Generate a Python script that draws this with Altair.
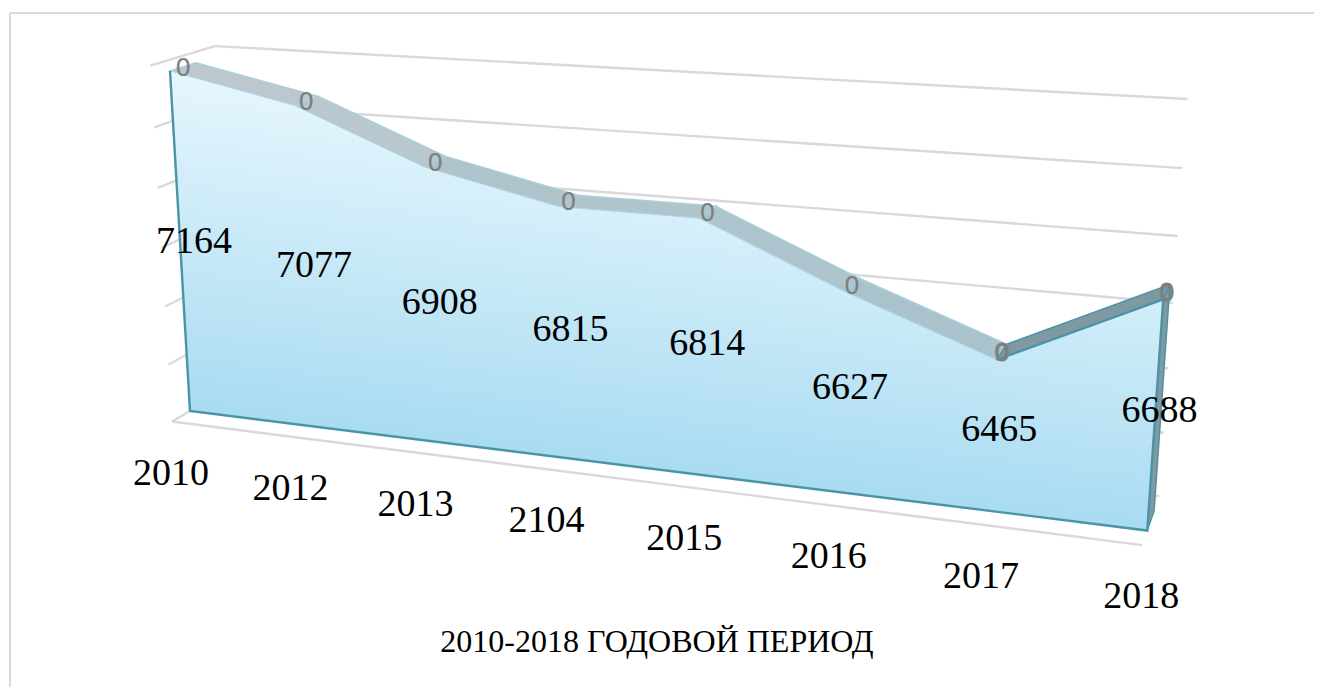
import altair as alt
import pandas as pd

# ---- data ----
years = ["2010", "2012", "2013", "2104", "2015", "2016", "2017", "2018"]
values = [7164, 7077, 6908, 6815, 6814, 6627, 6465, 6688]
zero_labels = ["0", "0", "0", "0", "0", "0", "0", "0"]
y_ticks = [6000, 6200, 6400, 6600, 6800, 7000, 7200]
axis_title = "2010-2018 ГОДОВОЙ ПЕРИОД"

# ---- 3D perspective of the original spreadsheet chart ----
W, H = 1306, 679
V_MIN = 6000
ALPHA, BETA = -0.02222, -3.71e-5
D_FLOOR, D_FRONT, D_MID, D_BACK, D_WALL = -0.0141, 0.0, 0.0099, 0.0198, 0.0354


def project(i, v, d):
    a, b = ALPHA * i, BETA * (v - V_MIN)
    w = 1 + a + b + d
    x = (190 - 5007 * a + 633 * b + 1447 * d) / w
    y = (411 - 238 * a + 7947 * b - 325 * d) / w
    return x - 8, y - 8


def frame(points):
    rows = []
    for k, (i, v, d) in enumerate(points):
        x, y = project(i, v, d)
        rows.append({"x": x, "y": y, "k": k})
    return pd.DataFrame(rows)


X = alt.X("x:Q", scale=alt.Scale(domain=[0, W], nice=False, zero=False), axis=None)
Y = alt.Y("y:Q", scale=alt.Scale(domain=[H, 0], nice=False, zero=False), axis=None)
ORDER = alt.Order("k:Q")
n = len(values)


def path(points, color, width=2.0, **kw):
    return alt.Chart(frame(points)).mark_line(
        color=color, strokeWidth=width, **kw
    ).encode(x=X, y=Y, order=ORDER)


def poly(points, fill, stroke=None, width=1.0):
    kw = {"stroke": stroke or fill, "strokeWidth": width}
    return alt.Chart(frame(points)).mark_line(
        fill=fill, interpolate="linear-closed", **kw
    ).encode(x=X, y=Y, order=ORDER)


layers = []
GRID = "#d9d9d9"

# chart frame
layers.append(alt.Chart(pd.DataFrame({"a": [0]})).mark_rule(color=GRID, strokeWidth=2).encode(
    x=alt.value(2), y=alt.value(5), y2=alt.value(H)))
layers.append(alt.Chart(pd.DataFrame({"a": [0]})).mark_rule(color=GRID, strokeWidth=2).encode(
    x=alt.value(2), x2=alt.value(W), y=alt.value(5)))

# walls and floor
for t in y_ticks:
    layers.append(path([(0, t, D_WALL), (n - 1, t, D_WALL)], GRID, 2.4))
    layers.append(path([(0, t, D_FLOOR), (0, t, D_WALL)], GRID, 2.4))
layers.append(path([(0, V_MIN, D_FLOOR), (n - 1, V_MIN, D_FLOOR)], GRID, 2.4))

# top band of the area
shades = ["#bcc8cd", "#b9c8ce", "#afc3cb", "#b0c4cc", "#aec4cc", "#a9c2cb", "#7f98a1"]
edges = ["#a9cfdc"] * 6 + ["#4a94a8"]
for s in range(n - 1):
    layers.append(poly(
        [(s, values[s], D_FRONT), (s + 1, values[s + 1], D_FRONT),
         (s + 1, values[s + 1], D_BACK), (s, values[s], D_BACK)],
        shades[s], edges[s], 1.5))

# right side of the area
layers.append(poly(
    [(n - 1, V_MIN, D_FRONT), (n - 1, values[-1], D_FRONT),
     (n - 1, values[-1], D_BACK), (n - 1, V_MIN, D_BACK)],
    "#84999f", "#4a94a8", 1.5))

# front face
front = [(i, values[i], D_FRONT) for i in range(n)] + [(n - 1, V_MIN, D_FRONT), (0, V_MIN, D_FRONT)]
gradient = alt.Gradient(
    gradient="linear",
    stops=[alt.GradientStop(color="#e6f6fd", offset=0), alt.GradientStop(color="#a8dbf1", offset=1)],
    x1=0, y1=0, x2=-0.186, y2=0.69,
)
layers.append(poly(front, gradient, "#a9d6e6", 1.0))
layers.append(path([(0, values[0], D_FRONT), (0, V_MIN, D_FRONT), (n - 1, V_MIN, D_FRONT),
                    (n - 1, values[-1], D_FRONT)], "#4a94a8", 2.4))
layers.append(path([(n - 2, values[-2], D_FRONT), (n - 1, values[-1], D_FRONT)], "#4a94a8", 2.4))

# "0" labels
zx, zy = zip(*[project(i, values[i], D_MID) for i in range(n)])
zero_df = pd.DataFrame({"x": zx, "y": zy, "t": zero_labels, "i": range(n)})
layers.append(alt.Chart(zero_df[zero_df.i < 6]).mark_text(
    font="DejaVu Sans", fontSize=25, color="#7f7f7f", baseline="middle", align="center", dy=1
).encode(x=X, y=Y, text="t:N"))
layers.append(alt.Chart(zero_df[zero_df.i >= 6]).mark_text(
    font="DejaVu Sans", fontSize=25, color="#7f7f7f", baseline="middle", align="center", dy=1,
    stroke="#7f7f7f", strokeWidth=1
).encode(x=X, y=Y, text="t:N"))

# value labels
vx, vy = zip(*[project(i, V_MIN + (values[i] - V_MIN) / 2, D_MID) for i in range(n)])
val_df = pd.DataFrame({"x": vx, "y": vy, "t": [str(v) for v in values]})
layers.append(alt.Chart(val_df).mark_text(
    font="Liberation Serif", fontSize=38, color="#000000", baseline="middle", align="center", dy=3, dx=1
).encode(x=X, y=Y, text="t:N"))

# category labels
cx, cy = zip(*[project(i, V_MIN, D_FLOOR) for i in range(n)])
cat_df = pd.DataFrame({"x": cx, "y": cy, "t": years})
layers.append(alt.Chart(cat_df).mark_text(
    font="Liberation Serif", fontSize=38, color="#000000", baseline="middle", align="center", dx=-1, dy=52
).encode(x=X, y=Y, text="t:N"))

# axis title
layers.append(alt.Chart(pd.DataFrame({"t": [axis_title]})).mark_text(
    font="Liberation Serif", fontSize=32, color="#000000", baseline="middle", align="center"
).encode(x=alt.value(649), y=alt.value(634), text="t:N"))

chart = alt.layer(*layers).properties(
    width=W, height=H, padding=0, autosize=alt.AutoSizeParams(type="none")
).configure_view(stroke=None)

chart.save("out.html", embed_options={"renderer": "svg", "actions": False})
